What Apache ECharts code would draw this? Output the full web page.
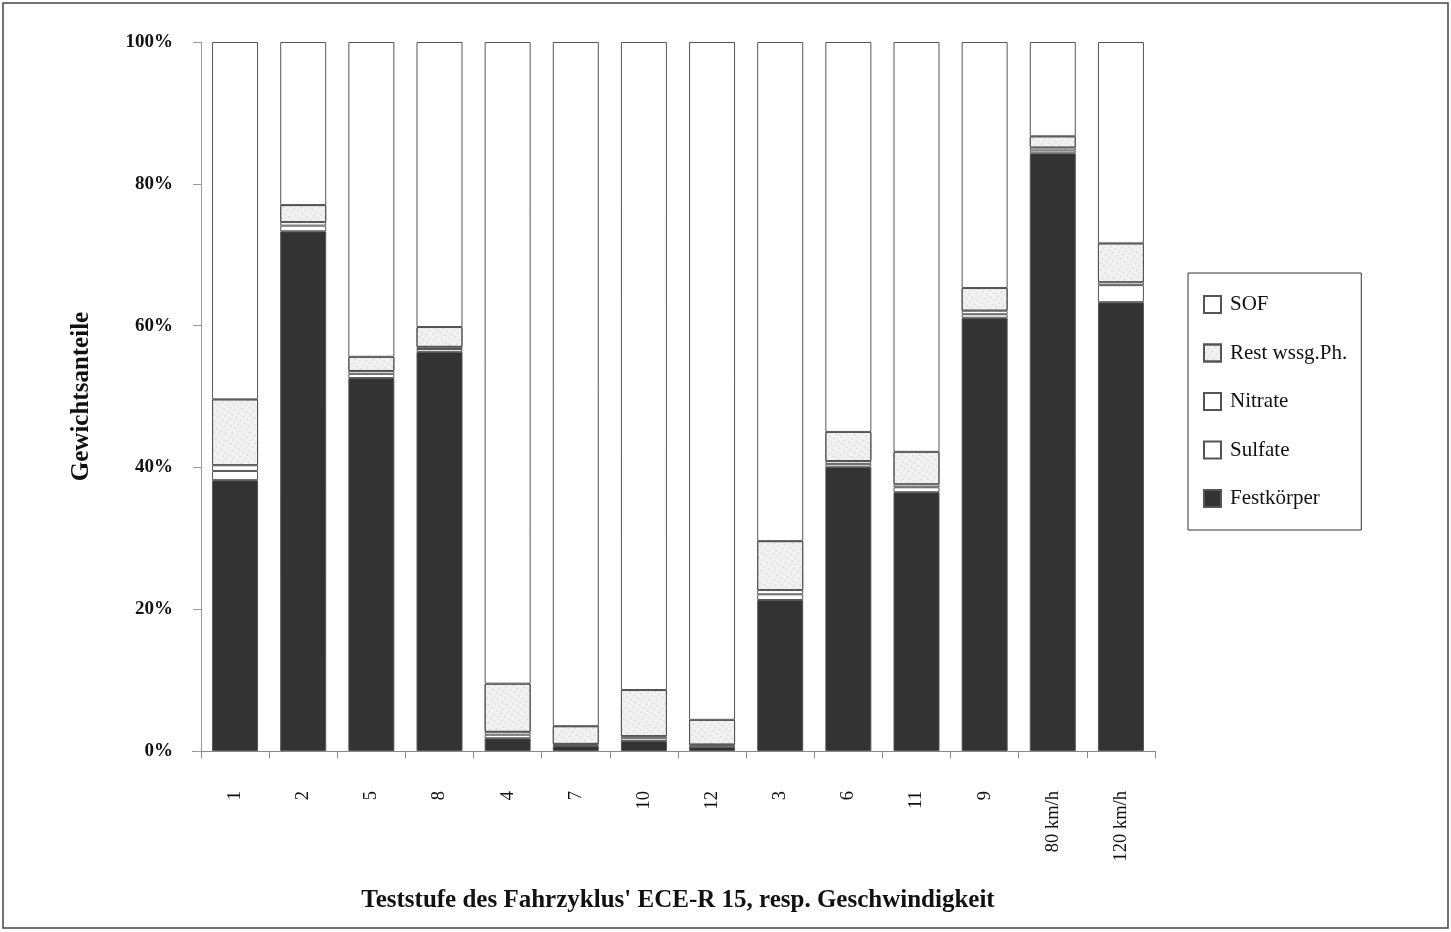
<!DOCTYPE html>
<html><head><meta charset="utf-8">
<script src="https://cdn.jsdelivr.net/npm/echarts@6/dist/echarts.min.js"></script>
<style>html,body{margin:0;padding:0;background:#fff}#c{width:1451px;height:932px}</style>
</head><body><div id="c"></div>
<script>
const categories = ['1','2','5','8','4','7','10','12','3','6','11','9','80 km/h','120 km/h'];
const festkoerper = [38.2, 73.3, 52.6, 56.3, 1.8, 0.7, 1.4, 0.6, 21.3, 40.1, 36.5, 61.1, 84.3, 63.3];
const sulfate     = [1.3, 0.8, 0.6, 0.4, 0.5, 0.2, 0.4, 0.2, 0.8, 0.4, 0.7, 0.5, 0.4, 2.4];
const nitrate     = [0.8, 0.5, 0.4, 0.3, 0.4, 0.1, 0.3, 0.1, 0.6, 0.4, 0.4, 0.5, 0.4, 0.4];
const restWssg    = [9.3, 2.4, 2.0, 2.8, 6.8, 2.5, 6.5, 3.5, 6.9, 4.1, 4.6, 3.2, 1.6, 5.5];
const sof         = [50.4, 23.0, 44.4, 40.2, 90.5, 96.5, 91.4, 95.6, 70.4, 55.0, 57.8, 34.7, 13.3, 28.4];
const yTicks = [0, 20, 40, 60, 80, 100];

const serif = 'Liberation Serif';
const chart = echarts.init(document.getElementById('c'));
const border = {borderColor:'#555', borderWidth:1};
function s(name, data, style){
  return {name, type:'bar', stack:'a', data, barWidth:46,
    itemStyle:Object.assign({}, border, style), emphasis:{disabled:true}};
}
chart.setOption({
  animation:false,
  backgroundColor:'#fff',
  graphic:[
    {type:'rect', shape:{x:3,y:3,width:1445,height:925}, style:{fill:'none', stroke:'#444', lineWidth:1.5}, silent:true},
    {type:'line', shape:{x1:192,y1:751.5,x2:201,y2:751.5}, style:{stroke:'#888', lineWidth:1}, silent:true}
  ],
  grid:{left:201, right:296, top:42, bottom:181},
  legend:{
    orient:'vertical', left:1188, top:273,
    data:['SOF','Rest wssg.Ph.','Nitrate','Sulfate','Festkörper'],
    icon:'rect',
    itemWidth:17, itemHeight:17, itemGap:27.5,
    padding:[21,14,21,15],
    borderColor:'#333', borderWidth:1,
    textStyle:{fontFamily:serif, fontSize:21, color:'#111', padding:[0,0,0,4]},
    selectedMode:false
  },
  xAxis:{
    type:'category', data:categories,
    axisLine:{lineStyle:{color:'#888'}},
    axisTick:{show:true, length:7, lineStyle:{color:'#888'}},
    axisLabel:{rotate:90, margin:40, fontFamily:serif, fontSize:18.5, color:'#111'},
    name:"Teststufe des Fahrzyklus' ECE-R 15, resp. Geschwindigkeit",
    nameLocation:'middle', nameGap:137,
    nameTextStyle:{fontFamily:serif, fontSize:25, fontWeight:'bold', color:'#111'}
  },
  yAxis:{
    type:'value', min:yTicks[0], max:yTicks[yTicks.length-1], interval:20,
    axisLine:{show:true, lineStyle:{color:'#999'}},
    axisTick:{show:true, length:8, lineStyle:{color:'#999'}},
    splitLine:{show:false},
    axisLabel:{margin:28, formatter:'{value}%', fontFamily:serif, fontSize:19, fontWeight:'bold', color:'#111'},
    name:'Gewichtsanteile', nameLocation:'middle', nameGap:107,
    nameTextStyle:{fontFamily:serif, fontSize:25, fontWeight:'bold', color:'#111'}
  },
  series:[
    s('Festkörper', festkoerper, {color:'#333'}),
    s('Sulfate', sulfate, {color:'#fff'}),
    s('Nitrate', nitrate, {color:'#fff'}),
    s('Rest wssg.Ph.', restWssg, {color:'#f1f1f1', decal:{symbol:'circle', symbolSize:0.7, color:'rgba(90,90,90,0.3)', dashArrayX:[[2,3]], dashArrayY:[2,3], rotation:0.6}}),
    s('SOF', sof, {color:'#fff'})
  ]
});
</script></body></html>
